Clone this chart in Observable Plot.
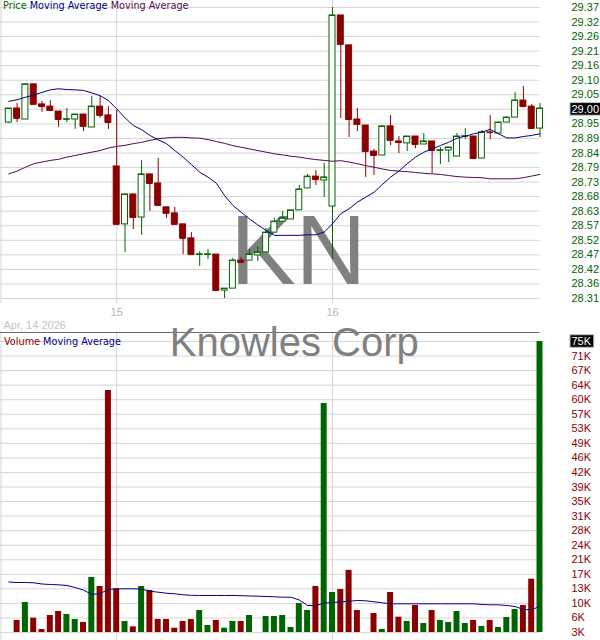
<!DOCTYPE html>
<html><head><meta charset="utf-8">
<script src="https://cdn.jsdelivr.net/npm/d3@7"></script>
<script src="https://cdn.jsdelivr.net/npm/@observablehq/plot@0.6"></script>
<style>
body{margin:0;background:#fff;}
#wrap{position:relative;width:600px;height:640px;overflow:hidden;background:#fff;}
#wrap svg{position:absolute;left:0;overflow:visible;background:transparent;}
.legend{position:absolute;font-family:'DejaVu Sans',Verdana,sans-serif;font-size:9.7px;white-space:nowrap;line-height:1;z-index:5;}
</style></head><body><div id="wrap"></div>
<script>
// ---- data (15-minute bars, Apr 14 - Apr 16 2026) ----
const ticker = "KN";
const company = "Knowles Corp";
const startDateLabel = "Apr, 14 2026";
const dayLabels = ["15", "16"];
const dayIndex = [14, 40];
const opens = [28.951, 29.002, 28.962, 29.090, 29.017, 29.009, 28.991, 28.962, 28.962, 28.980,
 28.933, 29.009, 28.977, 28.791, 28.580, 28.689, 28.605, 28.762, 28.729, 28.642,
 28.620, 28.580, 28.529, 28.470, 28.470, 28.470, 28.339, 28.346, 28.448, 28.448,
 28.467, 28.478, 28.550, 28.590, 28.598, 28.631, 28.711, 28.754, 28.740, 28.645,
 29.341, 29.232, 28.962, 28.940, 28.845, 28.831, 28.937, 28.882, 28.875, 28.900,
 28.871, 28.882, 28.849, 28.849, 28.827, 28.900, 28.900, 28.820, 28.915, 28.911,
 28.951, 28.969, 29.031, 29.009, 28.929];
const highs = [29.002, 29.020, 29.090, 29.090, 29.028, 29.031, 28.991, 29.002, 28.980, 28.980,
 29.046, 29.046, 29.009, 28.995, 28.689, 28.689, 28.813, 28.762, 28.820, 28.642,
 28.642, 28.580, 28.550, 28.481, 28.489, 28.470, 28.346, 28.456, 28.459, 28.489,
 28.499, 28.565, 28.602, 28.627, 28.631, 28.722, 28.762, 28.776, 28.802, 29.370,
 29.341, 29.232, 29.002, 28.940, 28.853, 28.937, 28.977, 28.900, 28.900, 28.900,
 28.911, 28.882, 28.860, 28.860, 28.911, 28.929, 28.900, 28.922, 28.977, 28.951,
 28.973, 29.060, 29.082, 29.017, 29.020];
const lows = [28.947, 28.951, 28.962, 29.017, 28.988, 28.995, 28.933, 28.951, 28.926, 28.918,
 28.933, 28.966, 28.926, 28.580, 28.478, 28.561, 28.540, 28.627, 28.649, 28.602,
 28.580, 28.470, 28.470, 28.427, 28.452, 28.339, 28.310, 28.346, 28.441, 28.448,
 28.445, 28.478, 28.550, 28.590, 28.598, 28.631, 28.711, 28.722, 28.678, 28.452,
 28.966, 28.896, 28.918, 28.751, 28.758, 28.831, 28.867, 28.838, 28.845, 28.856,
 28.871, 28.765, 28.798, 28.805, 28.827, 28.889, 28.820, 28.820, 28.889, 28.911,
 28.951, 28.969, 29.009, 28.929, 28.896];
const closes = [29.002, 28.966, 29.090, 29.017, 29.009, 28.995, 28.962, 28.963, 28.980, 28.937,
 29.009, 28.977, 28.951, 28.580, 28.689, 28.605, 28.762, 28.729, 28.649, 28.620,
 28.580, 28.529, 28.470, 28.471, 28.471, 28.339, 28.346, 28.448, 28.441, 28.470,
 28.478, 28.550, 28.590, 28.602, 28.631, 28.707, 28.754, 28.743, 28.751, 29.341,
 29.235, 28.962, 28.944, 28.845, 28.831, 28.937, 28.886, 28.878, 28.900, 28.871,
 28.882, 28.849, 28.850, 28.860, 28.900, 28.901, 28.820, 28.915, 28.914, 28.951,
 28.969, 29.031, 29.009, 28.929, 29.002];
const maShort = [29.028, 29.034, 29.043, 29.051, 29.061, 29.070, 29.074, 29.071, 29.070, 29.068,
 29.059, 29.049, 29.031, 29.001, 28.968, 28.940, 28.925, 28.904, 28.888, 28.874,
 28.849, 28.825, 28.798, 28.770, 28.752, 28.730, 28.685, 28.649, 28.624, 28.600,
 28.578, 28.558, 28.540, 28.540, 28.540, 28.540, 28.542, 28.542, 28.552, 28.582,
 28.619, 28.637, 28.661, 28.679, 28.697, 28.725, 28.752, 28.774, 28.801, 28.825,
 28.843, 28.855, 28.867, 28.879, 28.894, 28.901, 28.910, 28.916, 28.926, 28.910,
 28.895, 28.895, 28.900, 28.904, 28.910];
const maLong = [28.764, 28.774, 28.788, 28.801, 28.807, 28.813, 28.817, 28.825, 28.831, 28.837,
 28.843, 28.849, 28.858, 28.864, 28.868, 28.874, 28.879, 28.886, 28.892, 28.895,
 28.897, 28.897, 28.895, 28.894, 28.889, 28.882, 28.875, 28.867, 28.861, 28.855,
 28.849, 28.843, 28.837, 28.833, 28.828, 28.825, 28.820, 28.816, 28.813, 28.810,
 28.812, 28.807, 28.801, 28.794, 28.788, 28.782, 28.776, 28.774, 28.772, 28.769,
 28.766, 28.764, 28.762, 28.758, 28.754, 28.752, 28.751, 28.750, 28.746, 28.746,
 28.746, 28.746, 28.750, 28.756, 28.762];
// volume in thousands of shares
const volumes = [3.0, 5.97, 10.42, 6.54, 3.74, 7.21, 8.20, 7.45, 6.22, 5.47,
 16.61, 14.38, 62.88, 13.81, 5.72, 4.40, 14.38, 13.39, 6.22, 6.22,
 4.06, 5.72, 6.22, 8.44, 4.73, 5.97, 4.06, 5.72, 5.72, 7.21,
 3.0, 6.96, 6.96, 7.21, 4.24, 10.17, 8.44, 14.38, 59.66, 12.90,
 13.64, 18.38, 8.44, 3.0, 7.70, 3.74, 12.90, 6.79, 5.72, 9.68,
 5.23, 8.44, 5.97, 5.47, 8.20, 5.23, 5.97, 4.49, 5.97, 4.24,
 6.71, 8.69, 9.68, 16.19, 75.0];
const volMA = [15.50, 15.37, 15.37, 15.30, 15.00, 14.88, 14.80, 14.63, 14.13, 13.51,
 12.40, 12.65, 13.64, 13.81, 13.81, 13.81, 13.72, 13.22, 12.97, 12.72,
 12.58, 12.33, 12.20, 12.16, 12.16, 12.16, 12.16, 12.16, 12.11, 12.04,
 11.98, 11.91, 11.84, 11.73, 11.73, 11.04, 9.68, 9.68, 10.25, 10.42,
 10.60, 10.74, 10.92, 10.85, 10.60, 10.35, 10.10, 10.10, 10.10, 10.10,
 10.10, 10.10, 10.10, 10.10, 10.10, 10.10, 10.10, 9.93, 9.85, 9.85,
 9.68, 9.43, 8.69, 8.62, 9.51];
const priceTickLabels = ["28.31","28.36","28.42","28.47","28.52","28.57","28.63","28.68","28.73","28.79","28.84",
 "28.89","28.95","29.00","29.05","29.10","29.16","29.21","29.26","29.32","29.37"];
const volTickLabels = ["3K","6K","10K","13K","17K","21K","24K","28K","31K","35K","39K","42K","46K","49K","53K",
 "57K","60K","64K","67K","71K","75K"];
const priceDomain = [28.31, 29.37];
const volDomain = [3, 75];

// ---- styling ----
const UP = "#006400", DOWN = "#8b0000", NAVY = "#000080", PURPLE = "#500a50", GRID = "#d6d6d6";
const FONT = "'Liberation Sans', Arial, sans-serif";
const hw = 0.36;

const N = opens.length;
const candles = opens.map((o, k) => ({i: k + 1, o, h: highs[k], l: lows[k], c: closes[k], up: closes[k] >= o}));
const shortData = maShort.map((v, k) => ({i: k + 1, v}));
const longData = maLong.map((v, k) => ({i: k + 1, v}));
const volData = volumes.map((v, k) => ({i: k + 1, v, up: candles[k].up}));
const volMAData = volMA.map((v, k) => ({i: k + 1, v}));

const evenTicks = (dom, n) => d3.range(n).map(k => dom[0] + k * (dom[1] - dom[0]) / (n - 1));
const priceTicks = evenTicks(priceDomain, priceTickLabels.length);
const volTicks = evenTicks(volDomain, volTickLabels.length);
const fmtFrom = (dom, labels) => d => labels[Math.round((d - dom[0]) / (dom[1] - dom[0]) * (labels.length - 1))];

const price = Plot.plot({
  width: 600, height: 331, marginLeft: 0, marginRight: 60.5, marginTop: 7, marginBottom: 33,
  style: {fontFamily: FONT, fontSize: "11px", color: UP, background: "transparent", overflow: "visible"},
  x: {domain: [0, N], axis: null},
  y: {domain: priceDomain, axis: "right", ticks: priceTicks, tickFormat: fmtFrom(priceDomain, priceTickLabels),
      tickSize: 0, tickPadding: 31.5, label: null},
  marks: [
    Plot.ruleY(priceTicks, {stroke: GRID}),
    Plot.ruleX([0], {stroke: GRID, dx: 0.5, insetTop: -7, insetBottom: -5}),
    Plot.ruleX(dayIndex, {stroke: GRID, insetTop: -7, insetBottom: -5}),
    Plot.text([ticker], {text: d => d, frameAnchor: "bottom", lineAnchor: "bottom", dx: 28, dy: -15,
      fontSize: 98, fill: "#808080", fontFamily: FONT}),
    Plot.text(dayLabels, {text: d => d, x: (d, k) => dayIndex[k], frameAnchor: "bottom", lineAnchor: "bottom",
      dy: 17, fill: "#b4b4b4", fontSize: 11}),
    Plot.text([startDateLabel], {text: d => d, frameAnchor: "bottom-left", textAnchor: "start", lineAnchor: "bottom",
      dx: 3, dy: 30, fill: "#c4c4c4", fontSize: 11}),
    Plot.ruleX(candles, {x: "i", y1: "l", y2: "h", stroke: d => d.up ? UP : DOWN}),
    Plot.rect(candles, {x1: d => d.i - hw, x2: d => d.i + hw, y1: d => Math.min(d.o, d.c), y2: d => Math.max(d.o, d.c),
      fill: d => d.up ? "#ffffff" : DOWN, stroke: d => d.up ? UP : DOWN}),
    Plot.ruleY(candles, {y: "c", x1: d => d.i - hw, x2: d => d.i + hw, stroke: d => d.up ? UP : DOWN}),
    Plot.line(longData, {x: "i", y: "v", stroke: PURPLE, strokeWidth: 1}),
    Plot.line(shortData, {x: "i", y: "v", stroke: NAVY, strokeWidth: 1})
  ]
});

const volume = Plot.plot({
  width: 600, height: 309, marginLeft: 0, marginRight: 60.5, marginTop: 10, marginBottom: 8,
  style: {fontFamily: FONT, fontSize: "11px", color: DOWN, background: "transparent", overflow: "visible"},
  x: {domain: [0, N], axis: null},
  y: {domain: volDomain, axis: "right", ticks: volTicks, tickFormat: fmtFrom(volDomain, volTickLabels),
      tickSize: 0, tickPadding: 31.5, label: null},
  marks: [
    Plot.ruleY(volTicks, {stroke: GRID}),
    Plot.ruleX([0], {stroke: GRID, dx: 0.5, insetTop: -10, insetBottom: -8}),
    Plot.ruleX(dayIndex, {stroke: GRID, insetTop: -10, insetBottom: -8}),
    Plot.ruleY([volDomain[1]], {stroke: "#6e6e6e", dy: -9}),
    Plot.text([company], {text: d => d, frameAnchor: "top", lineAnchor: "bottom", dx: 24, dy: 14,
      fontSize: 40, fill: "#808080", fontFamily: FONT}),
    Plot.rect(volData, {x1: d => d.i - hw, x2: d => d.i + hw, y1: volDomain[0], y2: "v", fill: d => d.up ? UP : DOWN}),
    Plot.line(volMAData, {x: "i", y: "v", stroke: NAVY, strokeWidth: 1})
  ]
});

const wrap = document.getElementById("wrap");
price.style.top = "0px";
volume.style.top = "331px";
wrap.appendChild(price);
wrap.appendChild(volume);

function legend(top, left, parts) {
  const div = document.createElement("div");
  div.className = "legend";
  div.style.top = top + "px";
  div.style.left = left + "px";
  parts.forEach(([t, c], k) => {
    const s = document.createElement("span");
    s.textContent = (k ? " " : "") + t;
    s.style.color = c;
    div.appendChild(s);
  });
  wrap.appendChild(div);
}
legend(1, 3, [["Price", UP], ["Moving Average", NAVY], ["Moving Average", PURPLE]]);
legend(337, 4, [["Volume", DOWN], ["Moving Average", NAVY]]);

function highlight(svg, label) {
  const t = Array.from(svg.querySelectorAll("text")).find(n => n.textContent === label);
  if (!t) return;
  const b = t.getBBox();
  const r = document.createElementNS("http://www.w3.org/2000/svg", "rect");
  r.setAttribute("x", b.x - 1.5);
  r.setAttribute("y", b.y - 0.3);
  r.setAttribute("width", b.width + 3.5);
  r.setAttribute("height", b.height + 0.6);
  r.setAttribute("fill", "#000");
  r.setAttribute("stroke", "#bdbdbd");
  if (t.getAttribute("transform")) r.setAttribute("transform", t.getAttribute("transform"));
  t.parentNode.insertBefore(r, t);
  t.setAttribute("fill", "#fff");
  t.style.fill = "#fff";
}
highlight(price, fmtFrom(priceDomain, priceTickLabels)(closes[N - 1]));
highlight(volume, fmtFrom(volDomain, volTickLabels)(volumes[N - 1]));
</script></body></html>
